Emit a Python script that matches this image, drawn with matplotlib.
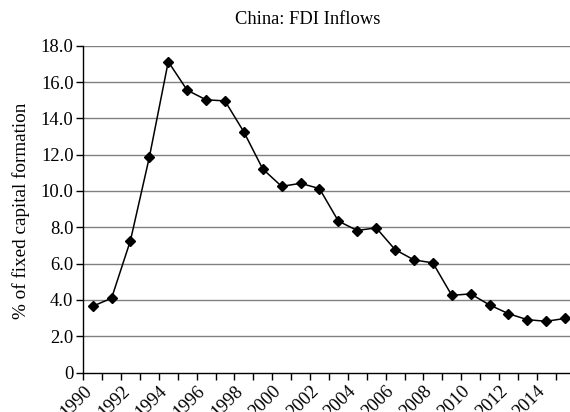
import matplotlib
matplotlib.use("Agg")
import matplotlib.pyplot as plt
import numpy as np

years = list(range(1990, 2016))
values = [3.65, 4.09, 7.27, 11.86, 17.12, 15.55, 15.02, 14.96, 13.25, 11.21,
          10.25, 10.42, 10.13, 8.34, 7.82, 7.97, 6.77, 6.20, 6.04, 4.25,
          4.33, 3.72, 3.24, 2.91, 2.82, 2.98]
yticks = [0, 2, 4, 6, 8, 10, 12, 14, 16, 18]
ytick_labels = ["0", "2.0", "4.0", "6.0", "8.0", "10.0", "12.0", "14.0", "16.0", "18.0"]
title = "China: FDI Inflows"
ylabel = "% of fixed capital formation"

plt.rcParams['font.family'] = ['Liberation Serif', 'DejaVu Serif']

W, H = 570, 412
fig = plt.figure(figsize=(W / 100, H / 100), dpi=100)
left, right, bottom, top = 83.2, 574.6, 372.5, 45.7
ax = fig.add_axes([left / W, (H - bottom) / H, (right - left) / W, (bottom - top) / H])

x = np.arange(len(years))
ax.set_xlim(-0.5, len(years) - 0.5)
ax.set_ylim(0, 18)

for yv in yticks[1:]:
    ax.axhline(yv, color='#808080', lw=1.0, zorder=1)

ax.plot(x, values, color='black', lw=1.1, marker='D', markersize=5,
        markerfacecolor='black', markeredgecolor='black', zorder=3, clip_on=False)

ax.set_yticks(yticks)
ax.set_yticklabels(ytick_labels, fontsize=13.3)
ax.tick_params(axis='y', direction='out', length=5, width=1, pad=2, colors='black')

ax.set_xticks(np.arange(-0.5, len(years), 1.0))
ax.set_xticklabels([])
ax.tick_params(axis='x', direction='out', length=5, width=1, colors='black')
for i, yr in enumerate(years):
    if i % 2 == 0:
        ax.text(i - 0.19, -0.88, str(yr), rotation=45, ha='right', va='center',
                rotation_mode='anchor', fontsize=13.3, transform=ax.transData,
                clip_on=False)

for s in ['top', 'right']:
    ax.spines[s].set_visible(False)
for s in ['left', 'bottom']:
    ax.spines[s].set_color('black')
    ax.spines[s].set_linewidth(1)

fig.text(308 / W, 1 - 20 / H, title, ha='center', va='center', fontsize=13.3)
fig.text(21 / W, 1 - 211 / H, ylabel, rotation=90, ha='center', va='center', fontsize=13.8)

fig.savefig("out.png", dpi=100)
